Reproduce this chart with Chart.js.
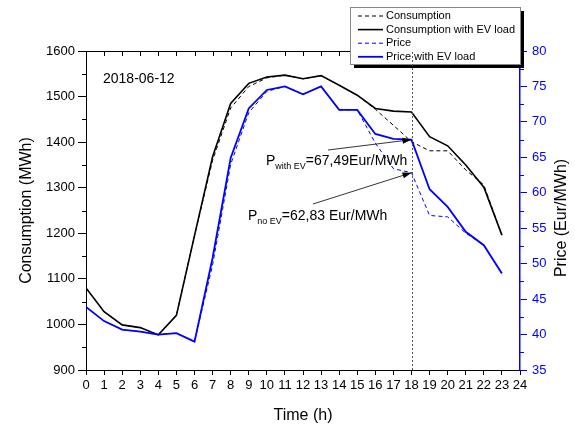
<!DOCTYPE html>
<html>
<head>
<meta charset="utf-8">
<title>Consumption and price, 2018-06-12</title>
<script src="https://cdn.jsdelivr.net/npm/chart.js@4.4.1/dist/chart.umd.min.js"></script>
<style>
  html, body { margin: 0; padding: 0; background: #fff; }
  #chart { display: block; }
</style>
</head>
<body>
<canvas id="chart" width="575" height="425"></canvas>
<script>
// Hourly consumption (MWh) and price (Eur/MWh), with and without EV charging load
const hours = [0, 1, 2, 3, 4, 5, 6, 7, 8, 9, 10, 11, 12, 13, 14, 15, 16, 17, 18, 19, 20, 21, 22, 23];

const consumption   = [1080, 1028, 999, 993, 977, 1020, 1195, 1360, 1475, 1522, 1541, 1547, 1539, 1546, 1525, 1503, 1472, 1437, 1401, 1381, 1381, 1339, 1306, 1196];
const consumptionEv = [1080, 1028, 999, 993, 977, 1020, 1195, 1368, 1485, 1529, 1543, 1547, 1539, 1546, 1525, 1503, 1474, 1468, 1466, 1412, 1392, 1350, 1301, 1196];

const price   = [43.9, 41.9, 40.7, 40.4, 40.0, 40.2, 39.0, 49.8, 64.0, 71.3, 74.3, 75.0, 73.9, 75.0, 71.7, 71.7, 67.0, 63.4, 62.83, 56.8, 56.6, 54.3, 52.6, 48.6];
const priceEv = [43.9, 41.9, 40.7, 40.4, 40.0, 40.2, 39.0, 50.8, 64.9, 71.9, 74.5, 75.0, 73.9, 75.0, 71.7, 71.7, 68.3, 67.6, 67.49, 60.5, 58.0, 54.5, 52.6, 48.6];

const seriesLabels = ['Consumption', 'Consumption with EV load', 'Price', 'Price with EV load'];
const dateLabel = '2018-06-12';
const markHour = 18;

const FONT = "'Liberation Sans', Arial, sans-serif";
Chart.defaults.font.family = FONT;
Chart.defaults.color = '#000';

const fmt = v => v.toFixed(2).replace('.', ',');

function drawArrow(ctx, x0, y0, x1, y1) {
    const a = Math.atan2(y1 - y0, x1 - x0);
    ctx.beginPath();
    ctx.moveTo(x0, y0);
    ctx.lineTo(x1, y1);
    ctx.stroke();
    ctx.beginPath();
    ctx.moveTo(x1, y1);
    ctx.lineTo(x1 - 9 * Math.cos(a) + 3 * Math.sin(a), y1 - 9 * Math.sin(a) - 3 * Math.cos(a));
    ctx.lineTo(x1 - 9 * Math.cos(a) - 3 * Math.sin(a), y1 - 9 * Math.sin(a) + 3 * Math.cos(a));
    ctx.closePath();
    ctx.fill();
}

// P with a subscript, followed by the value text
function drawPLabel(ctx, x, y, sub, text) {
    ctx.font = '14px ' + FONT;
    ctx.fillText('P', x, y);
    let cx = x + ctx.measureText('P').width;
    ctx.font = '9px ' + FONT;
    ctx.fillText(sub, cx, y + 4);
    cx += ctx.measureText(sub).width;
    ctx.font = '14px ' + FONT;
    ctx.fillText(text, cx, y);
}

const extras = {
    id: 'extras',
    afterDraw(chart) {
        const ctx = chart.ctx;
        const { left, right, top, bottom } = chart.chartArea;
        const xs = chart.scales.x, ys = chart.scales.y, ps = chart.scales.y1;
        ctx.save();

        // minor ticks on both value axes
        ctx.lineWidth = 1;
        ctx.strokeStyle = '#000';
        ctx.beginPath();
        for (let v = 950; v < 1600; v += 100) {
            const y = Math.round(ys.getPixelForValue(v)) + 0.5;
            ctx.moveTo(left - 4, y);
            ctx.lineTo(left, y);
        }
        ctx.stroke();
        ctx.strokeStyle = '#0000ff';
        ctx.beginPath();
        for (let v = 37.5; v < 80; v += 5) {
            const y = Math.round(ps.getPixelForValue(v)) + 0.5;
            ctx.moveTo(right, y);
            ctx.lineTo(right + 4, y);
        }
        ctx.stroke();

        // top frame with inward ticks
        ctx.strokeStyle = '#000';
        ctx.beginPath();
        ctx.moveTo(left, top + 0.5);
        ctx.lineTo(right, top + 0.5);
        for (let h = 1; h < 24; h++) {
            const x = Math.round(xs.getPixelForValue(h)) + 0.5;
            ctx.moveTo(x, top);
            ctx.lineTo(x, top + 5);
        }
        ctx.stroke();

        // right axis title, reading bottom to top
        ctx.fillStyle = '#000';
        ctx.font = '16px ' + FONT;
        ctx.textAlign = 'center';
        ctx.textBaseline = 'middle';
        ctx.save();
        ctx.translate(562, 218);
        ctx.rotate(-Math.PI / 2);
        ctx.fillText('Price (Eur/MWh)', 0, 0);
        ctx.restore();

        // date
        ctx.textAlign = 'left';
        ctx.textBaseline = 'alphabetic';
        ctx.font = '14px ' + FONT;
        ctx.fillText(dateLabel, 103, 83);

        // price annotations at the marked hour
        const i = hours.indexOf(markHour);
        const mx = xs.getPixelForValue(markHour);
        ctx.strokeStyle = '#000';
        ctx.lineWidth = 0.8;
        drawPLabel(ctx, 266, 165, 'with EV', '=' + fmt(priceEv[i]) + 'Eur/MWh');
        drawArrow(ctx, 328, 150, mx, ps.getPixelForValue(priceEv[i]));
        drawPLabel(ctx, 248, 220, 'no EV', '=' + fmt(price[i]) + ' Eur/MWh');
        drawArrow(ctx, 313, 204, mx, ps.getPixelForValue(price[i]));

        // legend box with drop shadow
        const lx = 350, ly = 7, lw = 170, lh = 57;
        ctx.fillStyle = '#000';
        ctx.fillRect(lx + 4, ly + 4, lw, lh);
        ctx.fillStyle = '#fff';
        ctx.fillRect(lx, ly, lw, lh);
        ctx.strokeStyle = '#888';
        ctx.lineWidth = 1;
        ctx.strokeRect(lx + 0.5, ly + 0.5, lw, lh);
        ctx.font = '11px ' + FONT;
        ctx.textBaseline = 'middle';
        chart.data.datasets.forEach((ds, k) => {
            const y = 16 + k * 13.6;
            ctx.strokeStyle = ds.borderColor;
            ctx.lineWidth = ds.borderWidth;
            ctx.setLineDash(ds.borderDash || []);
            ctx.beginPath();
            ctx.moveTo(358, y);
            ctx.lineTo(383, y);
            ctx.stroke();
            ctx.setLineDash([]);
            ctx.fillStyle = '#000';
            ctx.fillText(ds.label, 386, y);
        });

        // dotted marker line at the marked hour
        ctx.strokeStyle = '#555';
        ctx.lineWidth = 1;
        ctx.setLineDash([2, 2]);
        ctx.beginPath();
        ctx.moveTo(Math.round(mx) + 0.5, bottom);
        ctx.lineTo(Math.round(mx) + 0.5, top);
        ctx.stroke();

        ctx.restore();
    }
};

new Chart(document.getElementById('chart'), {
    type: 'line',
    data: {
        labels: hours,
        datasets: [
            { label: seriesLabels[0], data: consumption, yAxisID: 'y', borderColor: '#000', borderWidth: 1, borderDash: [4, 3], order: 3 },
            { label: seriesLabels[1], data: consumptionEv, yAxisID: 'y', borderColor: '#000', borderWidth: 1.6, order: 2 },
            { label: seriesLabels[2], data: price, yAxisID: 'y1', borderColor: '#0000ff', borderWidth: 1, borderDash: [4, 3], order: 1 },
            { label: seriesLabels[3], data: priceEv, yAxisID: 'y1', borderColor: '#0000ff', borderWidth: 1.8, order: 0 }
        ]
    },
    options: {
        responsive: false,
        devicePixelRatio: 1,
        animation: false,
        layout: { padding: { top: 51, left: 0, right: 0, bottom: 0 } },
        elements: {
            line: { tension: 0, fill: false },
            point: { radius: 0 }
        },
        plugins: {
            legend: { display: false },
            tooltip: { enabled: false }
        },
        scales: {
            x: {
                type: 'linear',
                min: 0,
                max: 24,
                afterFit: s => { s.height = 55; },
                ticks: { stepSize: 1, autoSkip: false, maxRotation: 0, color: '#000', font: { size: 13 }, padding: 3 },
                grid: { drawOnChartArea: false, tickLength: 5, color: '#000' },
                border: { color: '#000', width: 1 },
                title: { display: true, text: 'Time (h)', font: { size: 16 }, color: '#000', padding: { top: 0, bottom: 0 } }
            },
            y: {
                position: 'left',
                min: 900,
                max: 1600,
                afterFit: s => { s.width = 86; },
                ticks: { stepSize: 100, color: '#000', font: { size: 13 }, padding: 3, callback: v => String(v) },
                grid: { drawOnChartArea: false, tickLength: 8, color: '#000' },
                border: { color: '#000', width: 1 },
                title: { display: true, text: 'Consumption (MWh)', font: { size: 16 }, color: '#000', padding: { top: 17, bottom: 0 } }
            },
            y1: {
                position: 'right',
                min: 35,
                max: 80,
                afterFit: s => { s.width = 55; },
                ticks: { stepSize: 5, color: '#0000ff', font: { size: 13 }, padding: 5 },
                grid: { drawOnChartArea: false, tickLength: 7, color: '#0000ff' },
                border: { color: '#0000ff', width: 1.5 }
            }
        }
    },
    plugins: [extras]
});
</script>
</body>
</html>
